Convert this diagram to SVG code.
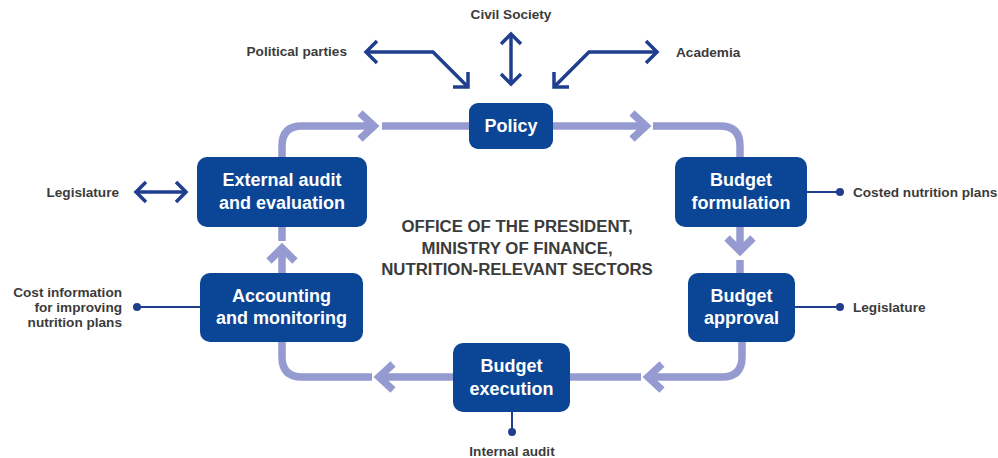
<svg xmlns="http://www.w3.org/2000/svg" width="998" height="458" viewBox="0 0 998 458">
<style>
.box{fill:#0b4595;}
.bt{font-family:"Liberation Sans",Arial,sans-serif;font-weight:bold;font-size:18px;fill:#ffffff;text-anchor:middle;}
.lbl{font-family:"Liberation Sans",Arial,sans-serif;font-weight:bold;font-size:13.6px;fill:#3b3b3b;}
.ctr{font-family:"Liberation Sans",Arial,sans-serif;font-weight:bold;font-size:16.8px;fill:#3b3b3b;text-anchor:middle;}
.loop{fill:none;stroke:#959bd0;stroke-width:7.5;}
.dk{fill:none;stroke:#1f3f8e;stroke-width:3.5;stroke-linejoin:miter;}
.thin{fill:none;stroke:#1f3f8e;stroke-width:2;}
.dot{fill:#1f3f8e;}
</style>
<rect width="998" height="458" fill="#ffffff"/>
<g id="connectors">
  <path class="loop" d="M282,157 V146 Q282,126 302,126 H374"/>
  <path class="loop" d="M360,113 L374,126 L360,139"/>
  <path class="loop" d="M382,126 H469"/>
  <path class="loop" d="M553,126 H646"/>
  <path class="loop" d="M632,113 L646,126 L632,139"/>
  <path class="loop" d="M653,126 H720 Q740,126 740,146 V157"/>
  <path class="loop" d="M740,227 V251"/>
  <path class="loop" d="M727,238 L740,251 L753,238"/>
  <path class="loop" d="M740,260 V273"/>
  <path class="loop" d="M742,342 V357 Q742,377 722,377 H648"/>
  <path class="loop" d="M662,364 L648,377 L662,390"/>
  <path class="loop" d="M641,377 H570"/>
  <path class="loop" d="M453,377 H379"/>
  <path class="loop" d="M393,364 L379,377 L393,390"/>
  <path class="loop" d="M372,377 H302 Q282,377 282,357 V342"/>
  <path class="loop" d="M282,273 V248"/>
  <path class="loop" d="M269,261 L282,248 L295,261"/>
  <path class="loop" d="M282,241 V227"/>
  <path class="dk" d="M366,52 H433 L468,87"/>
  <path class="dk" d="M377,41 L366,52 L377,63"/>
  <path class="dk" d="M468,72 V87 H453"/>
  <path class="dk" d="M511,34 V84"/>
  <path class="dk" d="M501,44 L511,34 L521,44"/>
  <path class="dk" d="M501,74 L511,84 L521,74"/>
  <path class="dk" d="M657,52 H589 L554,87"/>
  <path class="dk" d="M646,41 L657,52 L646,63"/>
  <path class="dk" d="M554,72 V87 H569"/>
  <path class="dk" d="M136,192 H186"/>
  <path class="dk" d="M146,182 L136,192 L146,202"/>
  <path class="dk" d="M176,182 L186,192 L176,202"/>
  <path class="thin" d="M807,192 H840"/><circle class="dot" cx="840" cy="192" r="4"/>
  <path class="thin" d="M795,307 H840"/><circle class="dot" cx="840" cy="307" r="4"/>
  <path class="thin" d="M200,307 H137"/><circle class="dot" cx="137" cy="307" r="4"/>
  <path class="thin" d="M512,412 V432"/><circle class="dot" cx="512" cy="432" r="4"/>
</g>
<g id="policy"><rect class="box" x="469" y="103" width="84" height="46" rx="9"/><text class="bt" x="511" y="132">Policy</text></g>
<g id="budget-formulation"><rect class="box" x="675" y="157" width="132" height="70" rx="10"/><text class="bt" x="741" y="186">Budget</text><text class="bt" x="741" y="209">formulation</text></g>
<g id="budget-approval"><rect class="box" x="688" y="273" width="107" height="69" rx="10"/><text class="bt" x="741.5" y="302">Budget</text><text class="bt" x="741.5" y="324">approval</text></g>
<g id="budget-execution"><rect class="box" x="453" y="343" width="117" height="69" rx="10"/><text class="bt" x="511.5" y="372">Budget</text><text class="bt" x="511.5" y="395">execution</text></g>
<g id="accounting"><rect class="box" x="200" y="273" width="163" height="69" rx="10"/><text class="bt" x="281.5" y="302">Accounting</text><text class="bt" x="281.5" y="324">and monitoring</text></g>
<g id="external-audit"><rect class="box" x="197" y="157" width="170" height="70" rx="10"/><text class="bt" x="282" y="186">External audit</text><text class="bt" x="282" y="209">and evaluation</text></g>
<g id="center-label">
  <text class="ctr" x="517" y="232">OFFICE OF THE PRESIDENT,</text>
  <text class="ctr" x="517" y="254">MINISTRY OF FINANCE,</text>
  <text class="ctr" x="517" y="275">NUTRITION-RELEVANT SECTORS</text>
</g>
<g id="political-parties"><text class="lbl" x="347" y="56" text-anchor="end">Political parties</text></g>
<g id="civil-society"><text class="lbl" x="511" y="19" text-anchor="middle">Civil Society</text></g>
<g id="academia"><text class="lbl" x="676" y="57">Academia</text></g>
<g id="legislature-left"><text class="lbl" x="119" y="197" text-anchor="end">Legislature</text></g>
<g id="cost-information"><text class="lbl" x="122" y="297" text-anchor="end">Cost information</text><text class="lbl" x="122" y="312" text-anchor="end">for improving</text><text class="lbl" x="122" y="327" text-anchor="end">nutrition plans</text></g>
<g id="costed-plans"><text class="lbl" x="853" y="197">Costed nutrition plans</text></g>
<g id="legislature-right"><text class="lbl" x="853" y="312">Legislature</text></g>
<g id="internal-audit"><text class="lbl" x="512" y="456" text-anchor="middle">Internal audit</text></g>
</svg>
